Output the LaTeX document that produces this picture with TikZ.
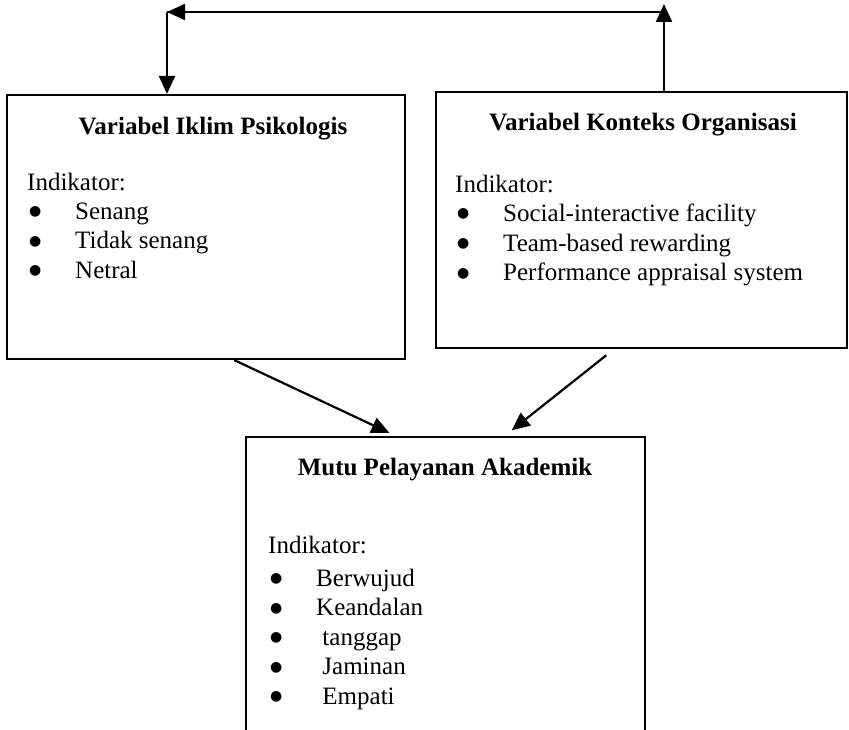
\documentclass[tikz,border=0pt]{standalone}
\usepackage{fontspec}
\setmainfont{Liberation Serif}
\newfontfamily\simbol{DejaVu Sans}
\usetikzlibrary{arrows.meta}
\newcommand{\butir}[1]{\makebox[48pt][l]{\hspace{2pt}\raisebox{3.5pt}{\simbol\fontsize{14}{14}\selectfont ●}}#1} % baris berbutir
\begin{document}
\begin{tikzpicture}[x=1pt,y=-1pt] % skema variabel penelitian
\tikzstyle{kotak} = [draw, line width=2.2pt, rectangle, inner sep=0pt] % kotak variabel
\tikzstyle{judul} = [anchor=base, inner sep=0pt, font=\fontsize{25}{30}\selectfont\bfseries] % judul kotak
\tikzstyle{isi} = [anchor=base west, inner sep=0pt, align=left, font=\fontsize{25}{29.5}\selectfont] % daftar indikator (base = baris terakhir)
\tikzstyle{panah} = [line width=2.2pt, -{Triangle[length=18pt,width=16pt]}] % panah
\useasboundingbox (0,0) rectangle (849,730);
\clip (0,0) rectangle (849,730);
%
\node[kotak, minimum width=398pt, minimum height=264pt] (iklim) at (206,227) {}; % kiri
\node[judul] (judul1) at (213,135) {Variabel Iklim Psikologis};
\node[isi] (daftar1) at (27,278.5) {Indikator:\\ \butir{Senang}\\ \butir{Tidak senang}\\ \butir{Netral}};
%
\node[kotak, minimum width=411pt, minimum height=256pt] (konteks) at (641.5,220) {}; % kanan
\node[judul] (judul2) at (643,131) {Variabel Konteks Organisasi};
\node[isi] (daftar2) at (455,280.5) {Indikator:\\ \butir{Social-interactive facility}\\
  \butir{Team-based rewarding}\\ \butir{Performance appraisal system}};
%
\node[kotak, minimum width=399pt, minimum height=323pt] (mutu) at (445.5,598.5) {}; % bawah
\node[judul] (judul3) at (445,475) {Mutu Pelayanan Akademik};
\node[isi] (daftar3) at (268,704) {Indikator:\\[3.5pt] \butir{Berwujud}\\ \butir{Keandalan}\\
  \butir{\ tanggap}\\ \butir{\ Jaminan}\\ \butir{\ Empati}};
%
\coordinate (kiri) at (167,12);
\coordinate (kanan) at (664,12);
\coordinate (puncak) at (664,4);
\draw[panah] (konteks.north -| puncak) -- (puncak);
\draw[line width=2.2pt] (kanan) -- (kiri);
\draw[panah] ([xshift=-2pt]kanan) -- (kiri);
\draw[panah] (kiri) -- (iklim.north -| kiri);
\draw[panah, shorten >=7pt] (iklim.-78) -- (mutu.107);
\draw[panah, shorten <=10pt, shorten >=9pt] (konteks.-102) -- (mutu.70);
\end{tikzpicture}
\end{document}
